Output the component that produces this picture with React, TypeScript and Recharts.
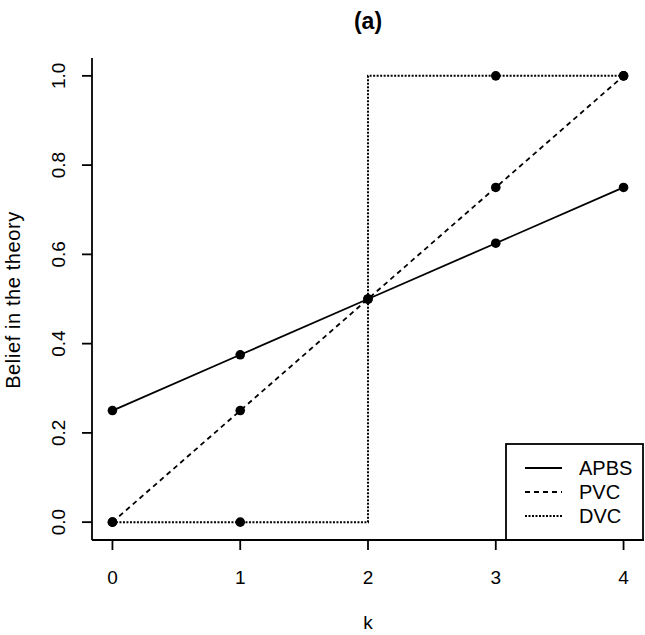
import React from "react";
import { LineChart, Line, XAxis, YAxis } from "recharts";

const kValues = [0, 1, 2, 3, 4];
const apbs = [0.25, 0.375, 0.5, 0.625, 0.75];
const pvc = [0, 0.25, 0.5, 0.75, 1];
const dvc = [0, 0, 1, 1, 1];
// DVC jumps at k = 2, no point marked at the top of the step
const dvcDotShown = [true, true, false, true, true];

const xTicks = [0, 1, 2, 3, 4];
const yTicks = [0, 0.2, 0.4, 0.6, 0.8, 1.0];

const seriesNames = ["APBS", "PVC", "DVC"];
const seriesDash = ["", "5 4", "2 1.5"];
const seriesWidth = [1.8, 1.8, 2];

const FONT = "'Liberation Sans', Arial, Helvetica, sans-serif";

const rows = kValues.map((k, i) => ({
  k,
  APBS: apbs[i],
  PVC: pvc[i],
  DVC: dvc[i],
}));

const YTick = (props: any) => {
  const { x, y, payload } = props;
  return (
    <text
      x={x}
      y={y}
      transform={`rotate(-90, ${x}, ${y})`}
      textAnchor="middle"
      fontSize={19}
      fontFamily={FONT}
      fill="#000"
    >
      {payload.value.toFixed(1)}
    </text>
  );
};

const dot = (show: boolean[] | null) => (props: any) => {
  const { cx, cy, index } = props;
  if (show && !show[index]) return <g key={`d${index}`} />;
  return <circle key={`d${index}`} cx={cx} cy={cy} r={4.8} fill="#000" stroke="none" />;
};

const LegendBox = () => {
  const left = 506;
  const top = 444;
  return (
    <g>
      <rect x={left} y={top} width={137} height={96} fill="#fff" stroke="#000" strokeWidth={1.8} />
      {seriesNames.map((name, i) => {
        const y = 468 + i * 24;
        return (
          <g key={name}>
            <line
              x1={525}
              x2={562}
              y1={y}
              y2={y}
              stroke="#000"
              strokeWidth={seriesWidth[i]}
              strokeDasharray={seriesDash[i] || undefined}
            />
            <text x={579} y={y + 7} fontSize={20} fontFamily={FONT} fill="#000">
              {name}
            </text>
          </g>
        );
      })}
    </g>
  );
};

export default function App() {
  return (
    <div style={{ position: "absolute", left: 0, top: 0, background: "#fff" }}>
      <LineChart
        width={645}
        height={635}
        data={rows}
        margin={{ top: 58, right: 1, bottom: 0, left: 0 }}
      >
        <XAxis
          dataKey="k"
          type="number"
          domain={[-0.16, 4.16]}
          ticks={xTicks}
          allowDataOverflow
          height={95}
          tickSize={10}
          tickMargin={21}
          stroke="#000"
          strokeWidth={1.8}
          tick={{ fill: "#000", fontSize: 19, fontFamily: FONT }}
        />
        <YAxis
          type="number"
          domain={[-0.04, 1.04]}
          ticks={yTicks}
          allowDataOverflow
          width={92}
          tickSize={10}
          tickMargin={17}
          stroke="#000"
          strokeWidth={1.8}
          tick={<YTick />}
        />
        <Line
          dataKey="APBS"
          type="linear"
          stroke="#000"
          strokeWidth={seriesWidth[0]}
          dot={dot(null)}
          activeDot={false}
          isAnimationActive={false}
        />
        <Line
          dataKey="PVC"
          type="linear"
          stroke="#000"
          strokeWidth={seriesWidth[1]}
          strokeDasharray={seriesDash[1]}
          dot={dot(null)}
          activeDot={false}
          isAnimationActive={false}
        />
        <Line
          dataKey="DVC"
          type="stepAfter"
          stroke="#000"
          strokeWidth={seriesWidth[2]}
          strokeDasharray={seriesDash[2]}
          dot={dot(dvcDotShown)}
          activeDot={false}
          isAnimationActive={false}
        />
        <LegendBox />
        <text x={368} y={29} textAnchor="middle" fontSize={23} fontWeight="bold" fontFamily={FONT} fill="#000">
          (a)
        </text>
        <text x={368} y={629} textAnchor="middle" fontSize={19} fontFamily={FONT} fill="#000">
          k
        </text>
        <text
          x={20}
          y={300}
          transform="rotate(-90, 20, 300)"
          textAnchor="middle"
          fontSize={20}
          letterSpacing={0.6}
          fontFamily={FONT}
          fill="#000"
        >
          Belief in the theory
        </text>
      </LineChart>
    </div>
  );
}
